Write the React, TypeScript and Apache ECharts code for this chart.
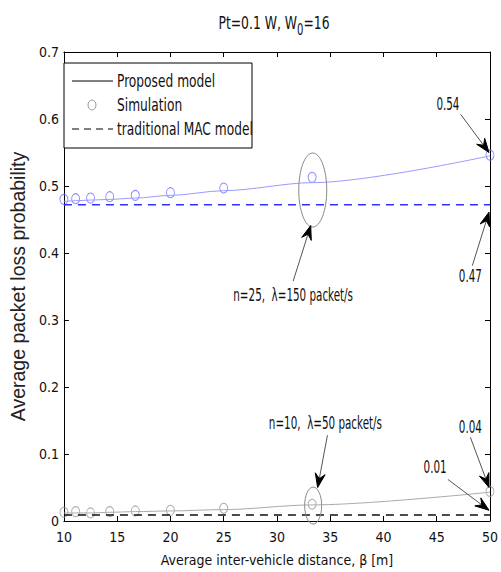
import React, { useEffect, useRef } from "react";
import * as echarts from "echarts";

// ---- data ----
const distances = [10, 11.1, 12.5, 14.3, 16.7, 20, 25, 33.3, 50];
const modelHigh = [0.477, 0.478, 0.479, 0.480, 0.482, 0.486, 0.493, 0.505, 0.545];
const simHigh = [0.480, 0.481, 0.482, 0.484, 0.486, 0.490, 0.497, 0.513, 0.546];
const macHigh = [0.472, 0.472];
const modelLow = [0.012, 0.012, 0.012, 0.013, 0.014, 0.015, 0.017, 0.024, 0.043];
const simLow = [0.013, 0.014, 0.012, 0.014, 0.015, 0.016, 0.019, 0.025, 0.044];
const macLow = [0.009, 0.009];
const macX = [10, 50];
const xTicks = [10, 15, 20, 25, 30, 35, 40, 45, 50];
const yTicks = [0, 0.1, 0.2, 0.3, 0.4, 0.5, 0.6, 0.7];

const titleParts = ["Pt=0.1 W, W", "0", "=16"];
const legendLabels = ["Proposed model", "Simulation", "traditional MAC model"];
const xName = "Average inter-vehicle distance, \u03b2 [m]";
const yName = "Average packet loss probability";

// annotations (data coordinates)
const ellipseCenters = [
  [33.36, 0.494],
  [33.4, 0.023],
];
const annotationTexts = ["n=25,  \u03bb=150 packet/s", "0.47", "0.54", "n=10,  \u03bb=50 packet/s", "0.04", "0.01"];
const annotationTextPos = [
  [31.52, 0.337],
  [48.16, 0.366],
  [46.05, 0.622],
  [34.55, 0.147],
  [48.16, 0.14],
  [44.85, 0.08],
];
const arrowTails = [
  [31.52, 0.358],
  [48.34, 0.381],
  [47.24, 0.607],
  [34.74, 0.128],
  [48.16, 0.125],
  [46.05, 0.062],
];
const arrowTips = [
  [33.17, 0.441],
  [49.91, 0.461],
  [49.91, 0.55],
  [33.82, 0.05],
  [49.91, 0.05],
  [49.91, 0.016],
];

const NARROW = '"DejaVu Sans Condensed", "DejaVu Sans", sans-serif';
const REG = '"Liberation Sans", Arial, sans-serif';

function pairs(xs: number[], ys: number[]) {
  return xs.map((x, i) => [x, ys[i]]);
}

function measure(t: string, font: string) {
  const c = document.createElement("canvas").getContext("2d");
  if (!c) return t.length * 8;
  c.font = font;
  return c.measureText(t).width;
}

export default function App() {
  const ref = useRef<HTMLDivElement>(null);
  useEffect(() => {
    document.body.style.margin = "0";
    if (!ref.current) return;
    const chart = echarts.init(ref.current, undefined, { renderer: "svg" });
    const ellipseSizes = [
      [14, 37],
      [8.5, 18.5],
    ];
    const tf = "16px " + NARROW;
    const sf = "13px " + NARROW;
    const tsx = 0.86;
    const w1 = measure(titleParts[0], tf);
    const w2 = measure(titleParts[1], sf);
    const w3 = measure(titleParts[2], tf);
    const tW = (w1 + w2 + w3) * tsx;
    const tx0 = 274 - tW / 2;

    const axisCommon = {
      type: "value" as const,
      axisLine: { show: true, onZero: false, lineStyle: { color: "#000", width: 1 } },
      axisTick: { show: true, inside: true, length: 5, lineStyle: { color: "#000" } },
      splitLine: { show: false },
    };
    const option: any = {
      animation: false,
      backgroundColor: "#fff",
      grid: { left: 58, right: 8, top: 52, bottom: 48, containLabel: false },
      xAxis: [
        {
          ...axisCommon,
          position: "bottom",
          min: xTicks[0],
          max: xTicks[xTicks.length - 1],
          interval: xTicks[1] - xTicks[0],
          axisLabel: { margin: 9, fontSize: 14, fontFamily: NARROW, color: "#111" },
          name: xName,
          nameLocation: "middle",
          nameGap: 32,
          nameTextStyle: { fontSize: 14, fontFamily: NARROW, color: "#111" },
        },
        {
          ...axisCommon,
          position: "top",
          min: xTicks[0],
          max: xTicks[xTicks.length - 1],
          interval: xTicks[1] - xTicks[0],
          axisLabel: { show: false },
        },
      ],
      yAxis: [
        {
          ...axisCommon,
          position: "left",
          min: yTicks[0],
          max: yTicks[yTicks.length - 1],
          interval: 0.1,
          axisLabel: {
            margin: 5,
            fontSize: 14,
            fontFamily: NARROW,
            color: "#111",
            formatter: (v: number) => String(Math.round(v * 10) / 10),
          },
          name: yName,
          nameLocation: "middle",
          nameGap: 29,
          nameTextStyle: { fontSize: 19.5, fontFamily: REG, color: "#222" },
        },
        {
          ...axisCommon,
          position: "right",
          min: yTicks[0],
          max: yTicks[yTicks.length - 1],
          interval: 0.1,
          axisLabel: { show: false },
        },
      ],
      graphic: [
        {
          type: "text",
          x: tx0,
          y: 23,
          scaleX: tsx,
          scaleY: 1.15,
          style: { text: titleParts[0], font: tf, fill: "#111", align: "left", verticalAlign: "middle" },
        },
        {
          type: "text",
          x: tx0 + w1 * tsx,
          y: 30,
          scaleX: tsx,
          scaleY: 1.15,
          style: { text: titleParts[1], font: sf, fill: "#111", align: "left", verticalAlign: "middle" },
        },
        {
          type: "text",
          x: tx0 + (w1 + w2) * tsx,
          y: 23,
          scaleX: tsx,
          scaleY: 1.15,
          style: { text: titleParts[2], font: tf, fill: "#111", align: "left", verticalAlign: "middle" },
        },
        {
          type: "rect",
          shape: { x: 64, y: 63, width: 188, height: 85 },
          style: { fill: "#fff", stroke: "#000", lineWidth: 1 },
          z: 100,
        },
        { type: "line", shape: { x1: 72, y1: 81, x2: 113, y2: 81 }, style: { stroke: "#000", lineWidth: 1 }, z: 101 },
        { type: "ellipse", shape: { cx: 92, cy: 105, rx: 4, ry: 5 }, style: { fill: "none", stroke: "#999", lineWidth: 1 }, z: 101 },
        { type: "line", shape: { x1: 72, y1: 129, x2: 113, y2: 129 }, style: { stroke: "#000", lineWidth: 1.2, lineDash: [7, 5] }, z: 101 },
        ...legendLabels.map((t, i) => ({
          type: "text",
          x: 117,
          y: 81 + i * 24,
          scaleX: 0.85,
          scaleY: 1.1,
          style: { text: t, font: "16px " + NARROW, fill: "#111", align: "left", verticalAlign: "middle" },
          z: 101,
        })),
      ],
      series: [
        {
          type: "line",
          data: pairs(distances, modelHigh),
          showSymbol: false,
          symbol: "none",
          smooth: 0.3,
          smoothMonotone: "x",
          lineStyle: { color: "#9a9aff", width: 1 },
        },
        {
          type: "scatter",
          data: pairs(distances, simHigh),
          symbol: "circle",
          symbolSize: [8, 10],
          clip: false,
          itemStyle: { color: "rgba(0,0,0,0)", borderColor: "#6f6fff", borderWidth: 1 },
        },
        {
          type: "line",
          data: pairs(macX, macHigh),
          symbol: "none",
          lineStyle: { color: "#3030ff", width: 1.6, type: [8, 6] },
        },
        {
          type: "line",
          data: pairs(distances, modelLow),
          symbol: "none",
          smooth: 0.3,
          smoothMonotone: "x",
          lineStyle: { color: "#aaaaaa", width: 1 },
        },
        {
          type: "scatter",
          data: pairs(distances, simLow),
          symbol: "circle",
          symbolSize: [8, 10],
          clip: false,
          itemStyle: { color: "rgba(0,0,0,0)", borderColor: "#999", borderWidth: 1 },
        },
        {
          type: "line",
          data: pairs(macX, macLow),
          symbol: "none",
          lineStyle: { color: "#111", width: 1.6, type: [8, 6] },
        },
        {
          type: "custom",
          data: [[0, 0]],
          clip: false,
          z: 20,
          renderItem: (params: any, api: any) => {
            const children: any[] = [];
            ellipseCenters.forEach((c, i) => {
              const p = api.coord(c);
              children.push({
                type: "ellipse",
                shape: { cx: p[0], cy: p[1], rx: ellipseSizes[i][0], ry: ellipseSizes[i][1] },
                style: { fill: "none", stroke: "#888", lineWidth: 1 },
              });
            });
            arrowTails.forEach((t, i) => {
              const a = api.coord(t);
              const b = api.coord(arrowTips[i]);
              const dx = b[0] - a[0];
              const dy = b[1] - a[1];
              const len = Math.sqrt(dx * dx + dy * dy);
              const ux = dx / len;
              const uy = dy / len;
              const nx = -uy;
              const ny = ux;
              const L = 14;
              const W = 5;
              const back = [b[0] - L * ux, b[1] - L * uy];
              const notch = [b[0] - (L - 5) * ux, b[1] - (L - 5) * uy];
              children.push({
                type: "line",
                shape: { x1: a[0], y1: a[1], x2: notch[0], y2: notch[1] },
                style: { stroke: "#555", lineWidth: 1 },
              });
              children.push({
                type: "polygon",
                shape: {
                  points: [
                    [b[0], b[1]],
                    [back[0] + W * nx, back[1] + W * ny],
                    notch,
                    [back[0] - W * nx, back[1] - W * ny],
                  ],
                },
                style: { fill: "#000", stroke: "#000", lineWidth: 1 },
              });
            });
            annotationTexts.forEach((s, i) => {
              const p = api.coord(annotationTextPos[i]);
              children.push({
                type: "text",
                x: p[0],
                y: p[1],
                scaleX: 0.72,
                scaleY: 1.15,
                style: {
                  text: s,
                  x: 0,
                  y: 0,
                  font: "16px " + NARROW,
                  fill: "#111",
                  align: "center",
                  verticalAlign: "middle",
                },
              });
            });
            return { type: "group", children };
          },
        },
      ],
    };
    chart.setOption(option);
    return () => chart.dispose();
  }, []);
  return <div ref={ref} style={{ width: 501, height: 572 }} />;
}
